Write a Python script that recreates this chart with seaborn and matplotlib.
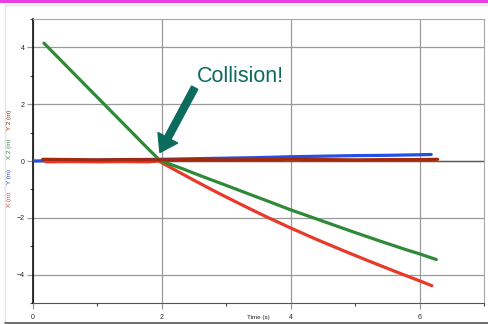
import matplotlib
matplotlib.use("Agg")
import matplotlib.pyplot as plt
import seaborn as sns
from matplotlib.lines import Line2D
from matplotlib.patches import Rectangle
from matplotlib.ticker import MultipleLocator

# Cart positions
t_x = [0.20, 0.60, 1.00, 1.40, 1.80, 1.95, 2.20, 2.50, 2.80, 3.00, 3.30, 3.60, 4.00, 4.40, 4.80, 5.20, 5.60, 6.00, 6.19]
x_pos = [-0.03, -0.02, -0.03, -0.02, -0.03, 0.00, -0.31, -0.68, -1.04, -1.27, -1.61, -1.94, -2.36, -2.76, -3.14, -3.51, -3.87, -4.22, -4.39]

t_y = [0.00, 0.50, 1.00, 1.50, 2.00, 2.50, 3.00, 3.50, 4.00, 4.50, 5.00, 5.50, 6.00, 6.18]
y_pos = [0.00, 0.02, 0.03, 0.05, 0.06, 0.08, 0.10, 0.12, 0.15, 0.17, 0.19, 0.20, 0.22, 0.23]

t_x2 = [0.17, 0.40, 0.60, 0.80, 1.00, 1.20, 1.40, 1.60, 1.80, 1.97, 2.33, 2.60, 3.00, 3.36, 3.70, 4.00, 4.30, 4.60, 5.00, 5.40, 5.80, 6.00, 6.26]
x2_pos = [4.15, 3.62, 3.16, 2.70, 2.24, 1.78, 1.32, 0.86, 0.40, 0.02, -0.28, -0.52, -0.86, -1.17, -1.46, -1.72, -1.96, -2.20, -2.52, -2.83, -3.13, -3.27, -3.47]

t_y2 = [0.15, 0.60, 1.00, 1.50, 2.00, 2.50, 3.00, 3.50, 4.00, 4.50, 5.00, 5.50, 6.00, 6.28]
y2_pos = [0.06, 0.05, 0.04, 0.05, 0.04, 0.05, 0.04, 0.05, 0.06, 0.05, 0.04, 0.05, 0.05, 0.06]

c_x = "#e8392a"
c_y = "#2450e6"
c_x2 = "#2f8a38"
c_y2 = "#a3280c"
c_note = "#0b6b5c"

sns.set_style("white")
plt.rcParams["font.family"] = ["Liberation Sans", "DejaVu Sans"]

fig = plt.figure(figsize=(4.88, 3.24), dpi=100)
W, H = 488, 324
ax = fig.add_axes([33 / W, 21 / H, 451 / W, 284 / H])

# outer frame and magenta strip
fig.add_artist(Rectangle((0, 1 - 2.5 / H), 1, 2.5 / H, transform=fig.transFigure,
                         color="#e83ee6", lw=0))
fig.add_artist(Line2D([5 / W, 1], [1 - 4.5 / H, 1 - 4.5 / H], transform=fig.transFigure,
                      color="#e4e4e4", lw=1))
fig.add_artist(Line2D([5 / W, 5 / W], [2 / H, 1 - 4.5 / H], transform=fig.transFigure,
                      color="#e4e4e4", lw=1))
fig.add_artist(Line2D([5 / W, 1], [1.5 / H, 1.5 / H], transform=fig.transFigure,
                      color="#555555", lw=1.2))

for t, v, c in [(t_y, y_pos, c_y), (t_x, x_pos, c_x), (t_x2, x2_pos, c_x2), (t_y2, y2_pos, c_y2)]:
    sns.lineplot(x=t, y=v, color=c, lw=2.3, sort=False, ax=ax, zorder=3)

ax.set_xlim(0, 7)
ax.set_ylim(-5, 5)
ax.xaxis.set_major_locator(MultipleLocator(2))
ax.xaxis.set_minor_locator(MultipleLocator(1))
ax.yaxis.set_major_locator(MultipleLocator(2))
ax.yaxis.set_minor_locator(MultipleLocator(1))
ax.grid(which="major", color="#9a9a9a", lw=0.9)
ax.axhline(0, color="#5a5a5a", lw=1.0, zorder=1)
ax.tick_params(which="major", length=4, width=0.9, color="#9a9a9a", labelsize=5, pad=2,
               left=True, bottom=True)
ax.tick_params(which="minor", length=2.5, width=0.8, color="#444444", left=True, bottom=True)
ax.tick_params(axis="x", pad=4)

for side in ["top", "right"]:
    ax.spines[side].set_color("#a8a8a8")
ax.spines["bottom"].set_color("#555555")
ax.spines["left"].set_color("#111111")
ax.spines["left"].set_linewidth(1.2)

ax.set_xlabel("")
ax.set_ylabel("")
fig.text(258.5 / W, 1 - 317 / H, "Time (s)", fontsize=4.5, ha="center", va="center", color="#222222")

# stacked, coloured y label
for label, yc, c in [("X (m)", 199, c_x), ("Y (m)", 176, c_y), ("X 2 (m)", 149, c_x2), ("Y 2 (m)", 120, c_y2)]:
    fig.text(10 / W, 1 - yc / H, label, fontsize=4.5, rotation=90, ha="center", va="center", color=c)

ax.text(2.54, 2.98, "Collision!", fontsize=15.5, color=c_note, va="center", ha="left")
ax.annotate("", xy=(1.97, 0.3), xytext=(2.51, 2.58),
            arrowprops=dict(arrowstyle="simple,head_length=1.2,head_width=1.6,tail_width=0.5",
                            color=c_note, shrinkA=0, shrinkB=0))

fig.savefig("out.png", dpi=100)
